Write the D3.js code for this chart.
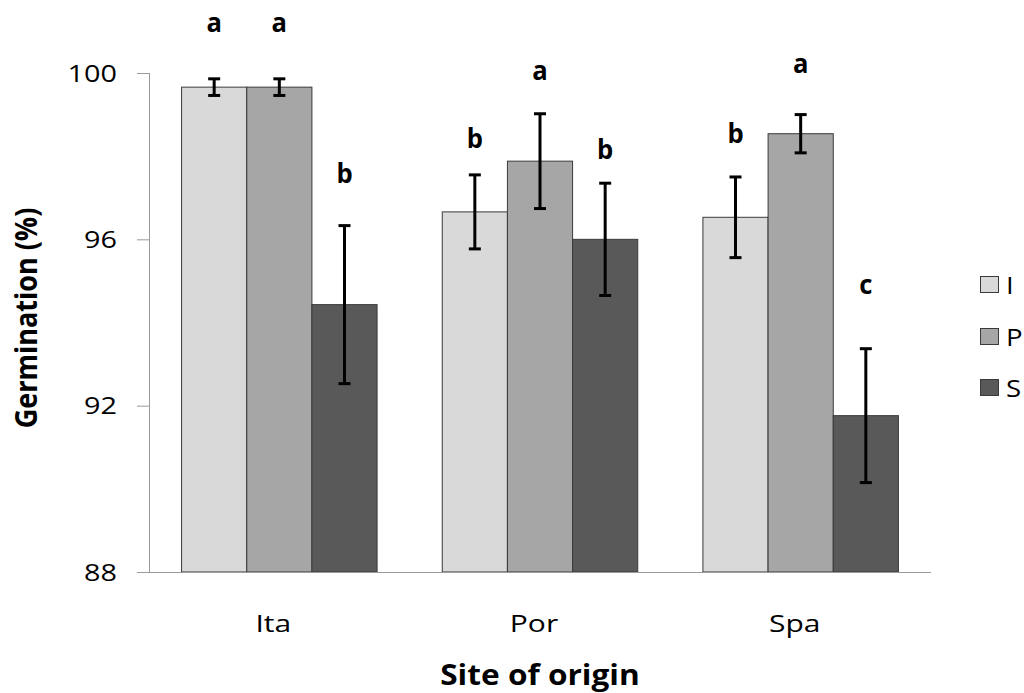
<!DOCTYPE html>
<html>
<head>
<meta charset="utf-8">
<script src="https://cdn.jsdelivr.net/npm/d3@7"></script>
<style>
  html, body { margin: 0; padding: 0; background: #fff; }
  svg text { font-family: "Open Sans", "Liberation Sans", sans-serif; fill: #000; }
</style>
</head>
<body>
<svg id="chart" width="1024" height="693"></svg>
<script>
// Sites of origin and treatments
const sites = ["Ita", "Por", "Spa"];
const treatments = ["I", "P", "S"];
const treatmentColors = ["#d9d9d9", "#a6a6a6", "#595959"];

// Mean germination (%) per treatment, one entry per site
const meanI = [99.66, 96.66, 96.53];
const meanP = [99.66, 97.88, 98.54];
const meanS = [94.43, 96.00, 91.76];

// Error bar half-widths (%)
const errI = [0.20, 0.89, 0.97];
const errP = [0.20, 1.14, 0.46];
const errS = [1.90, 1.35, 1.61];

// Significance letters and the height (%) of their baseline
const lettersI = ["a", "b", "b"];
const lettersP = ["a", "a", "a"];
const lettersS = ["b", "b", "c"];
const letterAtI = [100.99, 98.19, 98.32];
const letterAtP = [100.99, 99.83, 99.99];
const letterAtS = [97.36, 97.92, 94.68];

const yTicks = [88, 92, 96, 100];

const rows = [];
sites.forEach((site, i) => {
  rows.push({ site, t: "I", mean: meanI[i], err: errI[i], letter: lettersI[i], at: letterAtI[i] });
  rows.push({ site, t: "P", mean: meanP[i], err: errP[i], letter: lettersP[i], at: letterAtP[i] });
  rows.push({ site, t: "S", mean: meanS[i], err: errS[i], letter: lettersS[i], at: letterAtS[i] });
});

const svg = d3.select("#chart");
const plotLeft = 149, plotRight = 931, plotTop = 73, plotBottom = 572;

const x0 = d3.scaleBand().domain(sites).range([plotLeft, plotRight]).paddingInner(0.25).paddingOuter(0.125);
const x1 = d3.scaleBand().domain(treatments).range([0, x0.bandwidth()]);
const y = d3.scaleLinear().domain([88, 100]).range([plotBottom, plotTop]);
const color = d3.scaleOrdinal().domain(treatments).range(treatmentColors);

// Text with a wider, Calibri-like proportion
function wideText(parent, x, yPos, str, size, sx, anchor, weight) {
  return parent.append("text")
    .attr("transform", `translate(${x},${yPos}) scale(${sx},1)`)
    .attr("text-anchor", anchor || "middle")
    .attr("font-size", size)
    .attr("font-weight", weight || "normal")
    .text(str);
}

// Bars
svg.append("g").selectAll("rect").data(rows).join("rect")
  .attr("x", d => x0(d.site) + x1(d.t))
  .attr("y", d => y(d.mean))
  .attr("width", x1.bandwidth())
  .attr("height", d => y(88) - y(d.mean))
  .attr("fill", d => color(d.t))
  .attr("stroke", "#3a3a3a")
  .attr("stroke-width", 1);

// Error bars
const eb = svg.append("g").attr("stroke", "#000").attr("stroke-width", 3);
rows.forEach(d => {
  const cx = x0(d.site) + x1(d.t) + x1.bandwidth() / 2;
  const y1 = y(d.mean + d.err), y2 = y(d.mean - d.err);
  eb.append("line").attr("x1", cx).attr("x2", cx).attr("y1", y1).attr("y2", y2);
  eb.append("line").attr("x1", cx - 6).attr("x2", cx + 6).attr("y1", y1).attr("y2", y1);
  eb.append("line").attr("x1", cx - 6).attr("x2", cx + 6).attr("y1", y2).attr("y2", y2);
});

// Significance letters
const lettersG = svg.append("g");
rows.forEach(d => {
  wideText(lettersG, x0(d.site) + x1(d.t) + x1.bandwidth() / 2, y(d.at), d.letter, 27, 0.95, "middle", "bold");
});

// Y axis
const yAxis = svg.append("g").attr("transform", `translate(${plotLeft},0)`)
  .call(d3.axisLeft(y).tickValues(yTicks).tickSize(12).tickFormat(""));
yAxis.select(".domain").attr("stroke", "#9a9a9a").attr("d", `M0.5,${plotTop}V${plotBottom}`);
yAxis.selectAll(".tick line").attr("stroke", "#9a9a9a");
const yLabels = svg.append("g");
yTicks.forEach(v => wideText(yLabels, plotLeft - 32, y(v) + 8.5, String(v), 24, 1.2, "end"));

// X axis baseline
svg.append("line").attr("x1", plotLeft).attr("x2", plotRight).attr("y1", plotBottom + 0.5).attr("y2", plotBottom + 0.5)
  .attr("stroke", "#9a9a9a");

// Category labels
const xLabels = svg.append("g");
sites.forEach(s => wideText(xLabels, x0(s) + x0.bandwidth() / 2 - 6, 632, s, 24, 1.25, "middle"));

// Axis titles
wideText(svg, (plotLeft + plotRight) / 2, 685, "Site of origin", 28, 1.13, "middle", "bold");
svg.append("text").attr("transform", "translate(37,318) rotate(-90) scale(1,1.1)")
  .attr("text-anchor", "middle").attr("font-size", 27).attr("font-weight", "bold")
  .text("Germination (%)");

// Legend
const legendY = [285, 337, 388];
const lg = svg.append("g");
treatments.forEach((t, i) => {
  lg.append("rect").attr("x", 980.5).attr("y", legendY[i] - 8.5).attr("width", 18).attr("height", 16)
    .attr("fill", color(t)).attr("stroke", "#3a3a3a").attr("stroke-width", 1);
  wideText(lg, 1006, legendY[i] + 8.5, t, 24, 1.15, "start");
});
</script>
</body>
</html>
